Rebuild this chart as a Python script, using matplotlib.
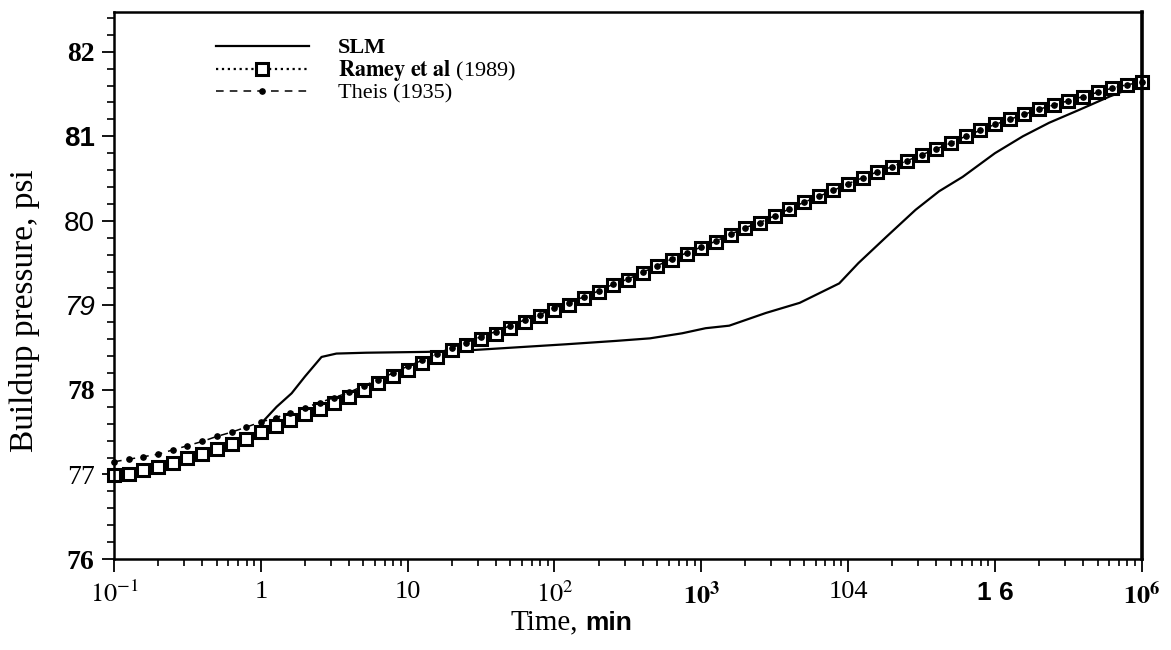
import numpy as np
import matplotlib
matplotlib.use("Agg")
import matplotlib.pyplot as plt
from matplotlib.ticker import MultipleLocator, LogLocator, NullFormatter, FixedLocator

plt.rcParams['font.family'] = ['Liberation Serif', 'DejaVu Serif']
plt.rcParams['mathtext.fontset'] = 'stix'

# time grid of the analytic curves, 10 points per log cycle from 0.1 to 1e6 min
t_curve = np.logspace(-1, 6, 71)

ramey_p = [76.99, 77.01, 77.05, 77.09, 77.14, 77.19, 77.24, 77.30, 77.36, 77.42,
           77.50, 77.57, 77.64, 77.71, 77.78, 77.85, 77.92, 78.00, 78.08, 78.16,
           78.24, 78.32, 78.39, 78.47, 78.53, 78.60, 78.66, 78.73, 78.80, 78.87,
           78.95, 79.01, 79.09, 79.16, 79.24, 79.30, 79.38, 79.46, 79.54, 79.61,
           79.68, 79.75, 79.83, 79.92, 79.98, 80.06, 80.14, 80.22, 80.29, 80.36,
           80.44, 80.51, 80.58, 80.64, 80.71, 80.78, 80.85, 80.92, 81.00, 81.07,
           81.14, 81.20, 81.26, 81.32, 81.37, 81.42, 81.47, 81.52, 81.57, 81.61,
           81.64]

theis_p = [77.15, 77.18, 77.21, 77.24, 77.29, 77.34, 77.39, 77.45, 77.50, 77.56,
           77.62, 77.67, 77.73, 77.79, 77.85, 77.91, 77.97, 78.05, 78.12, 78.20,
           78.28, 78.35, 78.43, 78.50, 78.56, 78.63, 78.69, 78.76, 78.83, 78.89,
           78.97, 79.03, 79.10, 79.17, 79.25, 79.31, 79.39, 79.47, 79.55, 79.62,
           79.69, 79.76, 79.84, 79.92, 79.98, 80.06, 80.14, 80.22, 80.29, 80.36,
           80.44, 80.51, 80.58, 80.64, 80.71, 80.78, 80.85, 80.92, 81.00, 81.07,
           81.14, 81.20, 81.26, 81.32, 81.37, 81.42, 81.47, 81.52, 81.57, 81.61,
           81.64]

slm_t = [1.0, 1.28, 1.62, 2.0, 2.59, 3.27, 5.2, 13.5, 27, 120, 263, 447, 741,
         1070, 1550, 2750, 4680, 8700, 11750, 18200, 28800, 41700, 60300,
         1.0e5, 1.55e5, 2.34e5, 3.72e5, 6.03e5, 9.12e5, 1.0e6]
slm_p = [77.60, 77.80, 77.96, 78.16, 78.39, 78.43, 78.44, 78.45, 78.47, 78.54,
         78.58, 78.61, 78.67, 78.73, 78.76, 78.91, 79.03, 79.26, 79.50, 79.81,
         80.13, 80.35, 80.52, 80.80, 81.00, 81.16, 81.31, 81.47, 81.59, 81.62]

x_ticks = [1e-1, 1, 10, 1e2, 1e3, 1e4, 1e5, 1e6]
x_ticklabels = [r'$10^{-1}$', '1', '10', r'$10^{2}$', r'$\mathbf{10^{3}}$', '104', '1 6', r'$\mathbf{10^{6}}$']
y_ticks = [76, 77, 78, 79, 80, 81, 82]
y_ticklabels = ['76', '77', '78', '79', '80', '81', '82']

fig = plt.figure(figsize=(11.71, 6.5), dpi=100)
ax = fig.add_axes([0.0974, 0.14, 0.8776, 0.8415])

ax.plot(slm_t, slm_p, color='black', lw=1.6, label='SLM')
ax.plot(t_curve, ramey_p, color='black', ls=':', lw=1.6, marker='s', ms=8.5,
        mfc='white', mec='black', mew=2.2, label=r'$\mathbf{Ramey\ et\ al}$ (1989)', clip_on=False)
ax.plot(t_curve, theis_p, color='black', ls=(0, (5, 4)), lw=1.1, marker='o', ms=3.8,
        label='Theis (1935)', clip_on=False)

ax.set_xscale('log')
ax.set_xlim(1e-1, 1e6)
ax.set_ylim(76, 82.47)

ax.xaxis.set_major_locator(FixedLocator(x_ticks))
ax.xaxis.set_minor_locator(LogLocator(base=10, subs=np.arange(2, 10), numticks=20))
ax.xaxis.set_minor_formatter(NullFormatter())
ax.set_xticklabels(x_ticklabels, fontsize=19)
ax.yaxis.set_major_locator(FixedLocator(y_ticks))
ax.yaxis.set_minor_locator(MultipleLocator(0.2))
ax.set_yticklabels(y_ticklabels, fontsize=20)

# the scanned labels use a mix of typefaces
ylab = ax.get_yticklabels()
ylab[6].set_fontweight('bold')
ylab[5].set_family('Liberation Sans'); ylab[5].set_fontweight('bold')
ylab[4].set_family('Liberation Sans')
ylab[3].set_family('Liberation Sans'); ylab[3].set_style('italic')
ylab[2].set_fontweight('bold')
ylab[0].set_fontweight('bold')
xlab = ax.get_xticklabels()
xlab[6].set_family('Liberation Sans'); xlab[6].set_fontweight('bold')

ax.tick_params(axis='both', which='major', direction='out', length=9, width=1.3, colors='black')
ax.tick_params(axis='both', which='minor', direction='out', length=5, width=1.2)
ax.tick_params(axis='x', which='major', pad=7)
ax.tick_params(axis='y', which='major', pad=5)

for side in ['left', 'bottom', 'top']:
    ax.spines[side].set_linewidth(1.8)
ax.spines['right'].set_linewidth(2.6)

ax.set_ylabel('Buildup pressure, psi', fontsize=24)
ax.yaxis.set_label_coords(-0.072, 0.455)
fig.text(0.494, 0.031, 'Time,', fontsize=21, ha='right', va='baseline')
fig.text(0.500, 0.031, 'min', fontsize=19, ha='left', va='baseline',
         family='Liberation Sans', fontweight='bold')

leg = ax.legend(loc='upper left', bbox_to_anchor=(0.099, 0.953), frameon=False,
                fontsize=16, numpoints=1, handlelength=4.2, handletextpad=1.3,
                labelspacing=0.0, borderpad=0, borderaxespad=0)
leg.get_texts()[0].set_fontweight('bold')

fig.savefig('out.png', dpi=100)
